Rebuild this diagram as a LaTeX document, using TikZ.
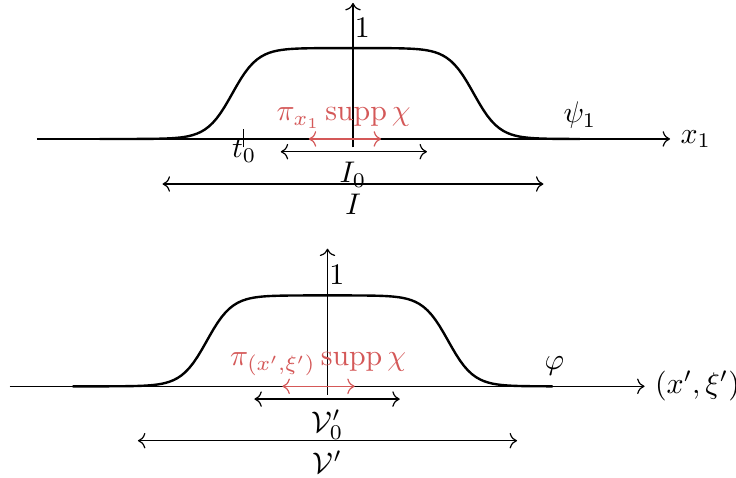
\documentclass[tikz,border=0pt]{standalone}
\usepackage{amsmath}
\usetikzlibrary{arrows.meta}
\definecolor{suppred}{RGB}{212,88,88}

\begin{document}
\begin{tikzpicture}[scale=1]
			
			% picture frame
			\useasboundingbox (-4.153,-3.988) rectangle (4.506,1.635);
			
			% ===== TOP: psi_1 on the x_1 axis =====
			
			% Axes
			\draw[->] (-3.72,0) -- (3.73,0) node[right] (xone) {$x_1$};
			\draw[->] (0,-0.1) -- (0,1.6);
			\node (onetop) at (0.11,1.31) {$1$};
			
			% Bump psi_1
			\draw[thick, domain=-2.98:2.67, samples=120, variable=\x]
				plot (\x, {0.535*(tanh(max(-4,min(4,(\x+1.42)/0.3)))-tanh(max(-4,min(4,(\x-1.42)/0.3))))});
			\node[above] (psione) at (2.67,0) {$\psi_1$};
			
			% Tick at t_0
			\draw (-1.29,-0.1) -- (-1.29,0.12);
			\draw (-1.39,0) -- (-1.18,0);
			\node (tzero) at (-1.28,-0.14) {$t_0$};
			
			% Projection of supp chi (red)
			\draw[<->, suppred] (-0.52,0) -- (0.33,0);
			\node[above, text=suppred] (projtop) at (-0.11,0) {$\pi_{x_1}\operatorname{supp}\chi$};
			
			% Intervals I_0 and I
			\draw[<->] (-0.85,-0.15) -- (0.87,-0.15);
			\node[below] (Izero) at (0,-0.15) {$I_0$};
			\draw[<->] (-2.24,-0.53) -- (2.24,-0.53);
			\node[below] (Ibig) at (0,-0.53) {$I$};
			
			% ===== BOTTOM: varphi on the (x',xi') axis =====
			\begin{scope}[shift={(-0.30,-2.91)}]
			
			% Axes
			\draw[->] (-3.74,0) -- (3.73,0) node[right] (xxi) {$(x',\xi')$};
			\draw[->] (0,-0.1) -- (0,1.62);
			\node (onebot) at (0.11,1.31) {$1$};
			
			% Bump varphi
			\draw[thick, domain=-3.0:2.65, samples=120, variable=\x]
				plot (\x, {0.535*(tanh(max(-4,min(4,(\x+1.42)/0.3)))-tanh(max(-4,min(4,(\x-1.42)/0.3))))});
			\node[above] (phi) at (2.67,0) {$\varphi$};
			
			% Projection of supp chi (red)
			\draw[<->, suppred] (-0.53,0) -- (0.32,0);
			\node[above, text=suppred] (projbot) at (-0.11,0) {$\pi_{(x',\xi')}\operatorname{supp}\chi$};
			
			% Sets V'_0 and V'
			\draw[<->] (-0.86,-0.15) -- (0.85,-0.15);
			\node[below] (Vzero) at (0,-0.15) {$\mathcal{V}'_0$};
			\draw[<->] (-2.23,-0.64) -- (2.23,-0.64);
			\node[below] (Vbig) at (0,-0.64) {$\mathcal{V}'$};
			
			\end{scope}
			
		\end{tikzpicture}
\end{document}
